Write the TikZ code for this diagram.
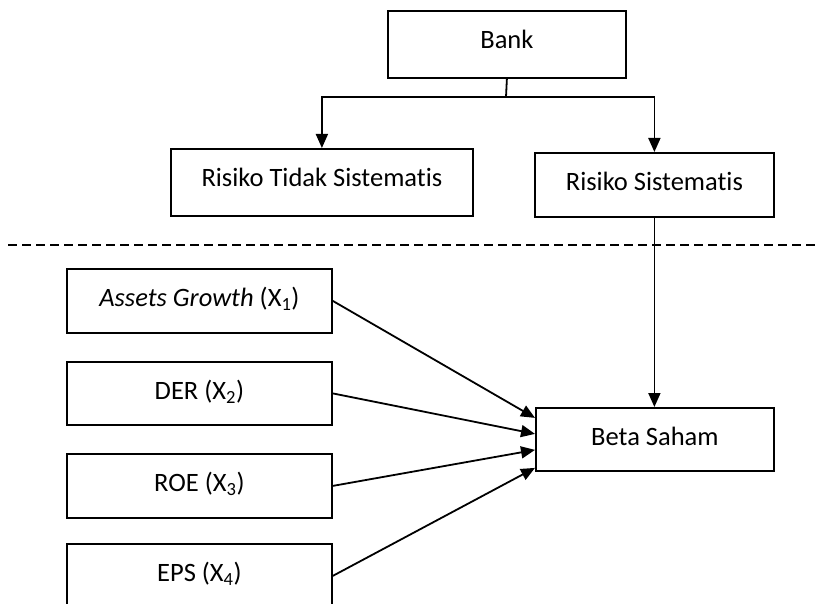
\documentclass[tikz,border=0pt]{standalone}
\usepackage{fontspec}
\setmainfont{Carlito}[Ligatures=NoCommon]
\usetikzlibrary{arrows.meta}
\tikzset{
  box/.style={draw, line width=1.8pt, inner xsep=0pt, inner ysep=0pt,
    text height=38pt, anchor=north west, align=center,
    font=\fontsize{26.5}{30}\selectfont},
  conn/.style={line width=1.8pt},
  arr/.style={line width=1.8pt, -{Triangle[length=14pt,width=12pt]}},
}
\begin{document}
\begin{tikzpicture}[x=1pt,y=-1pt]
\useasboundingbox (0,0) rectangle (817,604);
\clip (0,0) rectangle (817,604);
% top part
\node[box, minimum width=238pt, text depth=29pt] (bank) at (387,10) {Bank};
\node[box, minimum width=302pt, text depth=29pt] (rt) at (170,148) {Risiko Tidak Sistematis};
\node[box, minimum width=239pt, text depth=26pt] (rs) at (534,152) {Risiko Sistematis};
\coordinate (j) at (506,97);
\draw[conn] (bank.south) -- (j);
\draw[arr] (j) -| (rt.north);
\draw[arr] (j) -| (rs.north);
% dashed separator
\coordinate (dl) at (8,245);
\coordinate (dr) at (817,245);
\draw[line width=1.8pt, dash pattern=on 9pt off 5pt] (dl) -- (dr);
% left boxes
\node[box, minimum width=265pt, text depth=26pt] (x1) at (66,268) {\textit{Assets Growth} (X\textsubscript{1})};
\node[box, minimum width=265pt, text depth=25pt] (x2) at (66,361) {DER (X\textsubscript{2})};
\node[box, minimum width=265pt, text depth=26pt] (x3) at (66,453) {ROE (X\textsubscript{3})};
\node[box, minimum width=265pt, text depth=26pt] (x4) at (66,543) {EPS (X\textsubscript{4})};
% beta
\node[box, minimum width=238pt, text depth=25pt] (beta) at (535,407) {Beta Saham};
\draw[arr] (rs.south) -- (rs.south |- beta.north);
\draw[arr] (x1.east) -- ([yshift=21.5pt]beta.west);
\draw[arr] (x2.east) -- ([yshift=5.5pt]beta.west);
\draw[arr] (x3.east) -- ([yshift=-10.5pt]beta.west);
\draw[arr] (x4.east) -- ([yshift=-28.5pt]beta.west);
\end{tikzpicture}
\end{document}
